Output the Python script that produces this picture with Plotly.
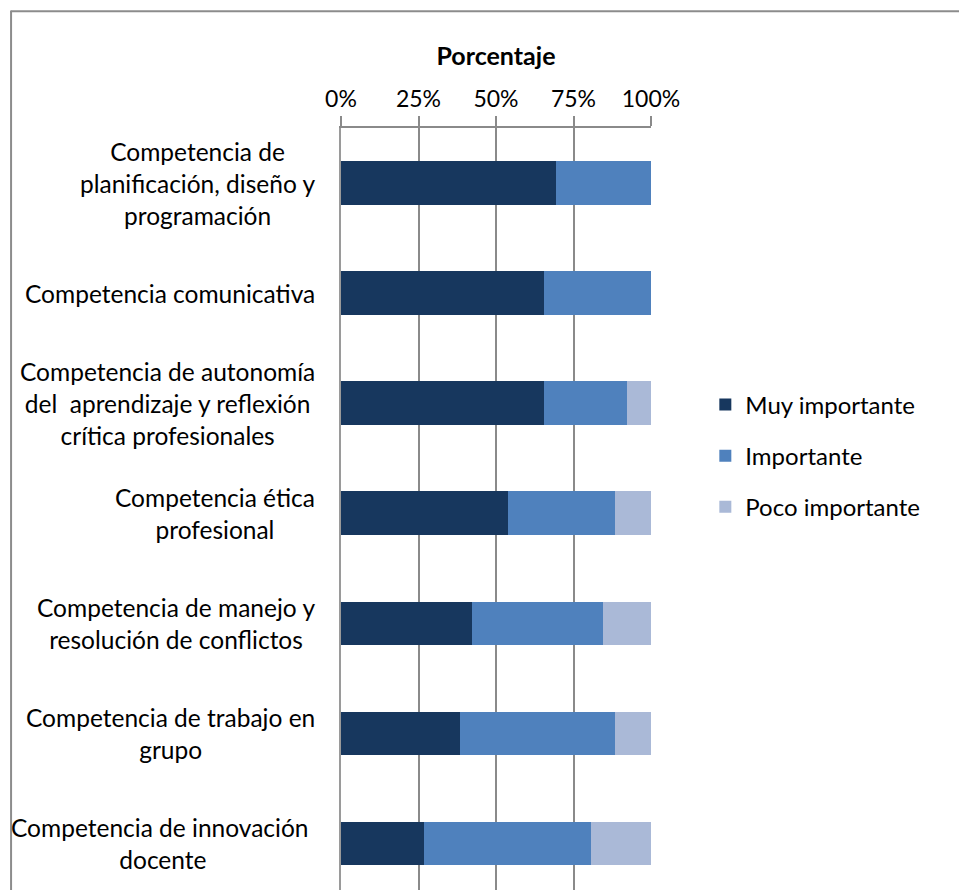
import plotly.graph_objects as go

# Competencias evaluadas (de arriba abajo)
categorias = [
    "Competencia de<br>planificación, diseño y<br>programación",
    "Competencia comunicativa",
    "Competencia de autonomía<br>del\u00a0 aprendizaje y reflexión<br>crítica profesionales",
    "Competencia ética<br>profesional",
    "Competencia de manejo y<br>resolución de conflictos",
    "Competencia de trabajo en<br>grupo",
    "Competencia de innovación\u00a0<br>docente",
]

# Porcentaje de respuestas por nivel de importancia
muy_importante = [69.2, 65.4, 65.4, 53.8, 42.3, 38.5, 26.9]
importante = [30.8, 34.6, 26.9, 34.6, 42.3, 50.0, 53.8]
poco_importante = [0.0, 0.0, 7.7, 11.5, 15.4, 11.5, 19.2]

series = [
    ("Muy importante", muy_importante, "#17375E"),
    ("Importante", importante, "#4F81BD"),
    ("Poco importante", poco_importante, "#AAB9D7"),
]

ticks = [0, 25, 50, 75, 100]
tick_text = ["0%", "25%", "50%", "75%", "100%"]

FONT = "Lato"
GRID = "#8A8A8A"
W, H = 959, 890
ML, MR, MT, MB = 340.5, 307.5, 128.3, 0
PW, PH = W - ML - MR, H - MT - MB
BAND = 110.0  # px per category

fig = go.Figure()
for i, (name, vals, color) in enumerate(series):
    fig.add_trace(go.Bar(
        y=list(range(len(categorias))),
        x=vals,
        name=name,
        orientation="h",
        width=0.394,
        marker=dict(color=color, line=dict(width=0)),
        legendgroup=str(i),
        hoverinfo="x+name",
    ))

# Category labels, centered lines, block right-aligned near the axis
for i, lab in enumerate(categorias):
    fig.add_annotation(
        x=0, y=i, xref="x", yref="y",
        text=lab, showarrow=False,
        xanchor="right", yanchor="middle", align="center",
        xshift=-24,
        font=dict(family=FONT, size=24.5, color="#000000"),
    )

# Chart frame (left and top edges)
def px_x(p):
    return (p - ML) / PW

def px_y(p):
    return 1 - (p - MT) / PH

fig.add_shape(type="line", xref="paper", yref="paper",
              x0=px_x(9.5), x1=px_x(9.5), y0=px_y(11), y1=px_y(H + 5),
              line=dict(color="#8C8C8C", width=2))
fig.add_shape(type="line", xref="paper", yref="paper",
              x0=px_x(9), x1=px_x(W + 5), y0=px_y(11.5), y1=px_y(11.5),
              line=dict(color="#8C8C8C", width=2))

fig.update_layout(
    width=W, height=H,
    margin=dict(l=ML, r=MR, t=MT, b=MB, pad=0),
    paper_bgcolor="white", plot_bgcolor="white",
    barmode="stack",
    font=dict(family=FONT, size=24, color="#000000"),
    showlegend=True,
    legend=dict(
        x=px_x(706), xanchor="left",
        y=px_y(456), yanchor="middle",
        traceorder="grouped",
        tracegroupgap=17,
        font=dict(family=FONT, size=24, color="#000000"),
        bgcolor="rgba(0,0,0,0)",
    ),
    xaxis=dict(
        side="top",
        range=[0, 100],
        tickvals=ticks, ticktext=tick_text,
        ticks="outside", ticklen=10, tickcolor=GRID, tickwidth=1.5,
        showgrid=True, gridcolor=GRID, gridwidth=1.5,
        showline=True, linecolor=GRID, linewidth=1.5,
        zeroline=False,
        tickfont=dict(family=FONT, size=23, color="#000000"),
        title=dict(text="<b>Porcentaje</b>", standoff=11,
                   font=dict(family=FONT, size=25, color="#000000")),
    ),
    yaxis=dict(
        range=[-0.5 + PH / BAND, -0.5],
        showticklabels=False, ticks="",
        showgrid=False, zeroline=False,
        showline=True, linecolor="#9A9A9A", linewidth=2,
        tickvals=list(range(len(categorias))),
    ),
)

fig.write_html("out.html")
